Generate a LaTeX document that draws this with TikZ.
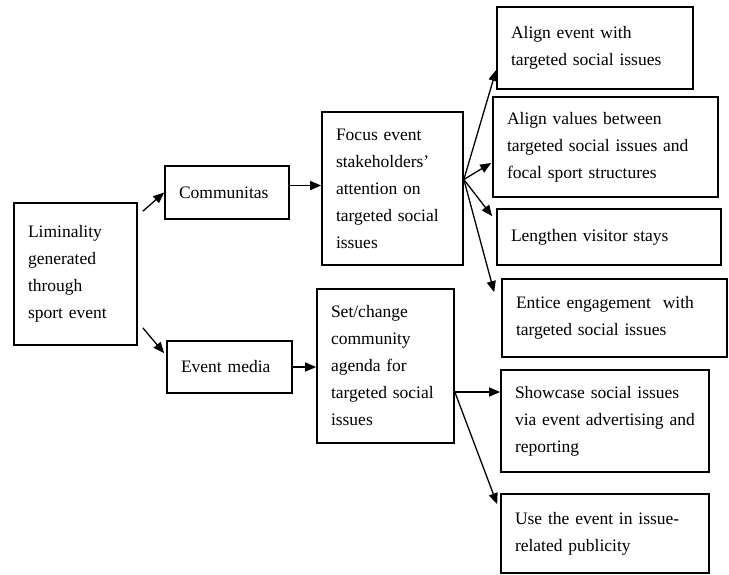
\documentclass[tikz,border=0pt]{standalone}
\usepackage{fontspec}
\setmainfont{Liberation Serif}
\usetikzlibrary{arrows.meta,calc}
\begin{document}
\begin{tikzpicture}[x=1pt,y=-1pt,
  box/.style={draw, line width=1.7pt, align=left, inner xsep=14pt, inner ysep=0pt,
    font=\fontsize{17.5}{27}\selectfont},
  link/.style={line width=1.3pt, -{Triangle[length=11pt,width=9pt]}}]
\useasboundingbox (0,0) rectangle (729,574);

% first column
\node[box, minimum width=123pt, minimum height=142pt, text width=95pt] (lim) at (75.5,274)
  {Liminality\\generated\\through\\sport event};

% second column
\node[box, minimum width=124pt, minimum height=53pt, text width=96pt] (com) at (227,192.5)
  {Communitas};
\node[box, minimum width=125pt, minimum height=52pt, text width=97pt] (med) at (229.5,367)
  {Event media};

% third column
\node[box, minimum width=141pt, minimum height=153pt, text width=113pt] (foc) at (392.5,188.5)
  {Focus event\\stakeholders’\\attention on\\targeted social\\issues};
\node[box, minimum width=137pt, minimum height=154pt, text width=109pt] (set) at (385.5,366)
  {Set/change\\community\\agenda for\\targeted social\\issues};

% outcomes
\node[box, minimum width=196pt, minimum height=82pt, text width=168pt] (a1) at (595,48)
  {Align event with\\targeted social issues};
\node[box, minimum width=225pt, minimum height=100pt, text width=197pt] (a2) at (605.5,147)
  {Align values between\\targeted social issues and\\focal sport structures};
\node[box, minimum width=224pt, minimum height=56pt, text width=196pt] (a3) at (609,237)
  {Lengthen visitor stays};
\node[box, minimum width=225pt, minimum height=78pt, text width=197pt] (a4) at (614.5,318)
  {Entice engagement\ \ with\\targeted social issues};
\node[box, minimum width=208pt, minimum height=102pt, text width=180pt] (a5) at (605,421)
  {Showcase social issues\\via event advertising and\\reporting};
\node[box, minimum width=208pt, minimum height=79pt, text width=180pt] (a6) at (605,533.5)
  {Use the event in issue-\\related publicity};

% connectors
\draw[link] ($(lim.north east)+(5,9)$) -- (com.west);
\draw[link] ($(lim.south east)+(5,-18)$) -- ($(med.north west)+(-2,13)$);
\draw[link] ($(com.east)+(0,-7)$) -- ($(foc.west)+(0,-3)$);
\draw[link] (med.east) -- (med.east -| set.west);

\coordinate (f) at ($(foc.east)+(0,-9)$);
\draw[link] (f) -- ($(a1.west)+(0,22)$);
\draw[link] (f) -- ($(a2.west)+(-1,16)$);
\draw[link] (f) -- ($(a3.north west)+(-4,8)$);
\draw[link] (f) -- ($(a4.north west)+(-7,14)$);

\coordinate (s) at ($(set.east)+(0,26)$);
\draw[link] (s) -- ($(a5.west)+(0,-29)$);
\draw[link] (s) -- ($(a6.north west)+(-3,11)$);
\end{tikzpicture}
\end{document}
